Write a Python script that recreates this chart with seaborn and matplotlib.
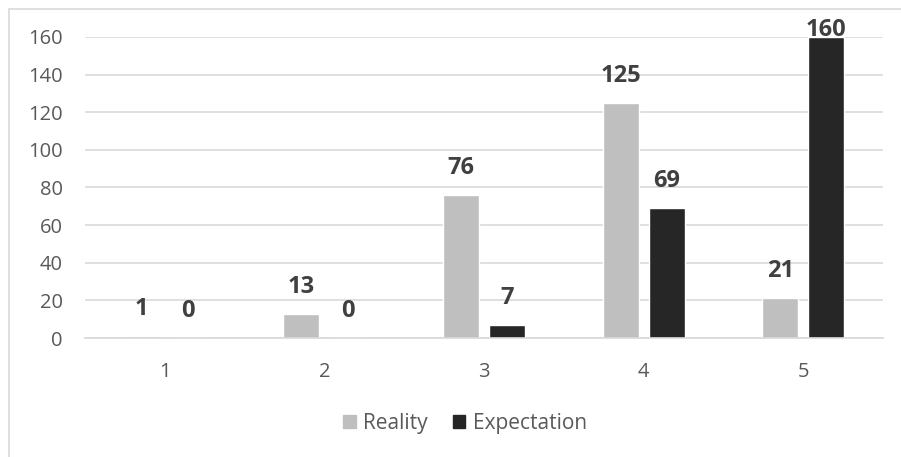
import matplotlib
matplotlib.use("Agg")
import matplotlib.pyplot as plt
import matplotlib.patches as mpatches
import seaborn as sns
import pandas as pd

# Ratings 1-5 and how many responses fell in each
categories = ["1", "2", "3", "4", "5"]
reality = [1, 13, 76, 125, 21]
expectation = [0, 0, 7, 69, 160]
series_names = ["Reality", "Expectation"]
y_ticks = [0, 20, 40, 60, 80, 100, 120, 140, 160]

colors = {"Reality": "#bfbfbf", "Expectation": "#262626"}

df = pd.DataFrame({
    "rating": categories * 2,
    "count": reality + expectation,
    "series": [series_names[0]] * len(categories) + [series_names[1]] * len(categories),
})

sns.set_theme(style="white")
plt.rcParams["font.family"] = ["Open Sans", "DejaVu Sans"]

W, H, DPI = 901, 457, 100
fig = plt.figure(figsize=(W / DPI, H / DPI), dpi=DPI)
fig.patch.set_facecolor("white")

# light frame around the chart area
frame = mpatches.Rectangle((8.5 / W, -0.05), 1.2, (H - 8.5) / H + 0.05,
                           transform=fig.transFigure, fill=False,
                           edgecolor="#d9d9d9", linewidth=1.2, zorder=0)
fig.patches.append(frame)

ax = fig.add_axes([85 / W, 119 / H, (883 - 85) / W, (338 - 37) / H])

sns.barplot(data=df, x="rating", y="count", hue="series", order=categories,
            hue_order=series_names, palette=colors, width=0.576, gap=0.22,
            saturation=1, ax=ax, legend=False)

ax.set_ylim(0, 160)
ax.set_xlim(-0.5, len(categories) - 0.5)
ax.set_yticks(y_ticks)
ax.set_yticklabels([str(t) for t in y_ticks])
ax.set_xlabel("")
ax.set_ylabel("")
ax.grid(axis="y", color="#d9d9d9", linewidth=1.2)
ax.set_axisbelow(True)
for side in ["top", "right", "left"]:
    ax.spines[side].set_visible(False)
ax.spines["bottom"].set_color("#d9d9d9")
ax.spines["bottom"].set_linewidth(1.2)
ax.tick_params(axis="both", length=0, labelsize=14.5, colors="#595959")
ax.tick_params(axis="x", pad=17)
ax.tick_params(axis="y", pad=16)

# value labels above each bar, kept from running far past the top of the plot
px_per_unit = (338 - 37) / 160
for container, vals in zip(ax.containers, [reality, expectation]):
    for bar, v in zip(container, vals):
        x = bar.get_x() + bar.get_width() / 2
        off_px = min(27, 7 + (160 - v) * px_per_unit)
        ax.annotate(str(v), (x, v), xytext=(0, off_px * 72 / DPI),
                    textcoords="offset points", ha="center", va="center",
                    fontsize=17, fontweight="bold", color="#404040",
                    annotation_clip=False)

handles = [mpatches.Patch(color=colors[s], label=s) for s in series_names]
fig.legend(handles=handles, loc="center", bbox_to_anchor=(465 / W, 1 - 423 / H),
           ncol=2, frameon=False, fontsize=15, labelcolor="#595959",
           handlelength=0.6, handleheight=0.6, handletextpad=0.35,
           columnspacing=1.2)

fig.savefig("out.png", dpi=DPI)
